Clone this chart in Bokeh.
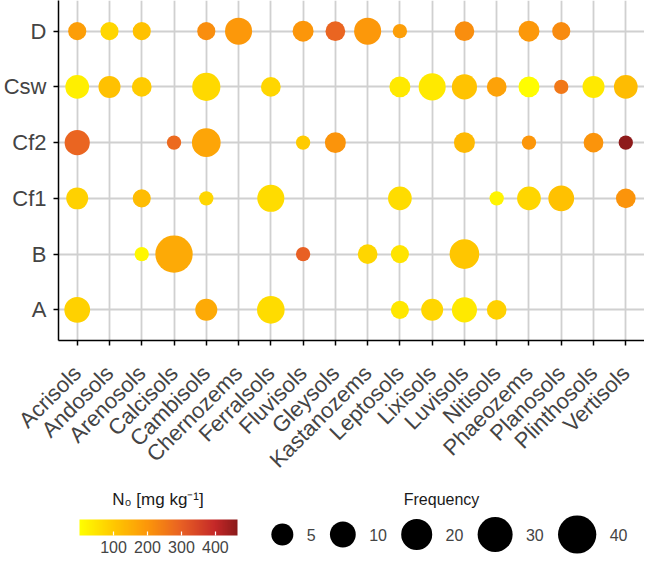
import math
import numpy as np
from bokeh.plotting import figure
from bokeh.models import (ColumnDataSource, FactorRange, Range1d, LinearColorMapper,
                          ColorBar, FixedTicker)
from bokeh.layouts import column
from bokeh.embed import file_html
from bokeh.resources import INLINE
from bokeh.core.properties import value

FONT = "Liberation Sans"
TXT = "#444444"

soils = ["Acrisols", "Andosols", "Arenosols", "Calcisols", "Cambisols", "Chernozems",
         "Ferralsols", "Fluvisols", "Gleysols", "Kastanozems", "Leptosols", "Lixisols",
         "Luvisols", "Nitisols", "Phaeozems", "Planosols", "Plinthosols", "Vertisols"]
climates = ["A", "B", "Cf1", "Cf2", "Csw", "D"]

pt_climate = (["D"] * 12 + ["Csw"] * 13 + ["Cf2"] * 9 + ["Cf1"] * 9 + ["B"] * 6 + ["A"] * 7)
pt_soil = [
    # D
    "Acrisols", "Andosols", "Arenosols", "Cambisols", "Chernozems", "Fluvisols", "Gleysols",
    "Kastanozems", "Leptosols", "Luvisols", "Phaeozems", "Planosols",
    # Csw
    "Acrisols", "Andosols", "Arenosols", "Cambisols", "Ferralsols", "Leptosols", "Lixisols",
    "Luvisols", "Nitisols", "Phaeozems", "Planosols", "Plinthosols", "Vertisols",
    # Cf2
    "Acrisols", "Calcisols", "Cambisols", "Fluvisols", "Gleysols", "Luvisols", "Phaeozems",
    "Plinthosols", "Vertisols",
    # Cf1
    "Acrisols", "Arenosols", "Cambisols", "Ferralsols", "Leptosols", "Nitisols", "Phaeozems",
    "Planosols", "Vertisols",
    # B
    "Arenosols", "Calcisols", "Fluvisols", "Kastanozems", "Leptosols", "Luvisols",
    # A
    "Acrisols", "Cambisols", "Ferralsols", "Leptosols", "Lixisols", "Luvisols", "Nitisols",
]
pt_freq = [
    2, 2, 2, 2, 12, 4, 3, 12, 1, 3, 4, 2,
    7, 5, 3, 14, 3, 4, 12, 9, 3, 4, 1, 5, 7,
    9, 1, 15, 1, 4, 4, 1, 3, 1,
    5, 2, 1, 12, 7, 1, 7, 10, 3,
    1, 37, 1, 3, 2, 17,
    10, 5, 13, 2, 5, 9, 3,
]
pt_n0 = [
    185, 75, 115, 215, 195, 200, 290, 195, 185, 215, 195, 220,
    30, 115, 95, 70, 75, 40, 40, 110, 175, 5, 255, 40, 125,
    290, 280, 170, 95, 205, 130, 200, 205, 460,
    85, 125, 75, 65, 65, 20, 75, 115, 205,
    15, 160, 300, 75, 50, 105,
    85, 160, 65, 45, 75, 40, 85,
]
size_breaks = [5, 10, 20, 30, 40]
color_ticks = [100, 200, 300, 400]
n0_low, n0_high = 0, 465
freq_min, freq_max = 1, 40


def size_px(f):
    f = np.asarray(f, dtype=float)
    return 14.3 + 24.0 * np.sqrt((f - freq_min) / (freq_max - freq_min))


# colour palette (yellow -> orange -> red -> dark red)
stops = [(0, (255, 255, 0)), (100, (255, 200, 0)), (200, (252, 150, 10)),
         (300, (232, 96, 36)), (400, (196, 40, 40)), (465, (139, 26, 26))]
sv = np.array([s[0] for s in stops], dtype=float)
sc = np.array([s[1] for s in stops], dtype=float)
grid = np.linspace(n0_low, n0_high, 256)
palette = []
for g in grid:
    r, gg, b = (np.interp(g, sv, sc[:, k]) for k in range(3))
    palette.append("#%02x%02x%02x" % (int(round(r)), int(round(gg)), int(round(b))))
mapper = LinearColorMapper(palette=palette, low=n0_low, high=n0_high)

src = ColumnDataSource(dict(soil=pt_soil, climate=pt_climate, freq=pt_freq, n0=pt_n0,
                            size=size_px(pt_freq)))

LEFT = 55
MAIN_H = 484
p = figure(width=644, height=MAIN_H,
           x_range=FactorRange(factors=soils, range_padding=0.08, range_padding_units="absolute"),
           y_range=FactorRange(factors=climates, range_padding=0.05, range_padding_units="absolute"),
           output_backend="svg", toolbar_location=None,
           min_border_left=LEFT, min_border_right=0, min_border_top=0, min_border_bottom=140)
p.outline_line_color = None
p.background_fill_color = "white"
p.grid.grid_line_color = "#d0d0d0"
p.grid.grid_line_width = 1.8
p.scatter(x="soil", y="climate", size="size", source=src, line_color=None,
          fill_color={"field": "n0", "transform": mapper})

for ax in (p.xaxis, p.yaxis):
    ax.axis_line_color = "black"
    ax.axis_line_width = 1.5
    ax.major_tick_line_color = "black"
    ax.major_tick_line_width = 1.5
    ax.major_tick_in = 0
    ax.major_tick_out = 5
    ax.minor_tick_line_color = None
    ax.major_label_text_font = FONT
    ax.major_label_text_color = TXT
    ax.major_label_text_font_size = "22px"
    ax.major_label_standoff = 7
p.xaxis.major_label_orientation = math.pi / 4
p.xaxis.major_label_text_font_size = "22px"
p.xaxis.major_label_standoff = 24

# legend strip (frame aligned with main frame: x coordinates = page x - 8)
LH = 555 - MAIN_H
lf = figure(width=644, height=LH, x_range=Range1d(LEFT, 644), y_range=Range1d(0, LH),
            output_backend="svg", toolbar_location=None, min_border=0,
            min_border_left=LEFT, min_border_right=0,
            x_axis_location=None, y_axis_location=None)
lf.grid.visible = False
lf.outline_line_color = None

cb = ColorBar(color_mapper=mapper, orientation="horizontal", width=158, height=16,
              location=(76 - LEFT, 0), padding=0, ticker=FixedTicker(ticks=color_ticks),
              major_label_text_font=FONT, major_label_text_font_size="16px",
              major_label_text_color=TXT, label_standoff=5,
              major_tick_line_color="white", major_tick_line_width=1.2,
              major_tick_in=4, major_tick_out=0,
              minor_tick_line_color=None, bar_line_color=None,
              background_fill_alpha=0, border_line_color=None)
lf.add_layout(cb, "center")
lf.text(x=[155], y=[56], text=["N\u2080 [mg kg\u207b\u00b9]"], text_font=value(FONT),
        text_font_size="17px", text_color="#1a1a1a", text_baseline="alphabetic",
        text_align="center")

# size legend
cx, lx, labels = [], [], []
cursor = 269.0
for b in size_breaks:
    d = float(size_px(b))
    cx.append(cursor + d / 2)
    lab = str(b)
    lx.append(cursor + d + 13.5)
    labels.append(lab)
    cursor = cursor + d + 13.5 + 8.9 * len(lab) + 14.5
lsrc = ColumnDataSource(dict(x=cx, y=[21] * len(cx), size=size_px(size_breaks),
                             lx=lx, label=labels))
lf.scatter(x="x", y="y", size="size", source=lsrc, fill_color="black", line_color=None)
lf.text(x="lx", y="y", text="label", source=lsrc, text_font=value(FONT),
        text_font_size="16px", text_color=TXT, text_baseline="middle", text_align="left")
lf.text(x=[440], y=[56], text=["Frequency"], text_font=value(FONT), text_font_size="16px",
        text_color="#1a1a1a", text_baseline="alphabetic", text_align="center")

layout = column(p, lf, spacing=0)
open("out.html", "w").write(file_html(layout, INLINE))
